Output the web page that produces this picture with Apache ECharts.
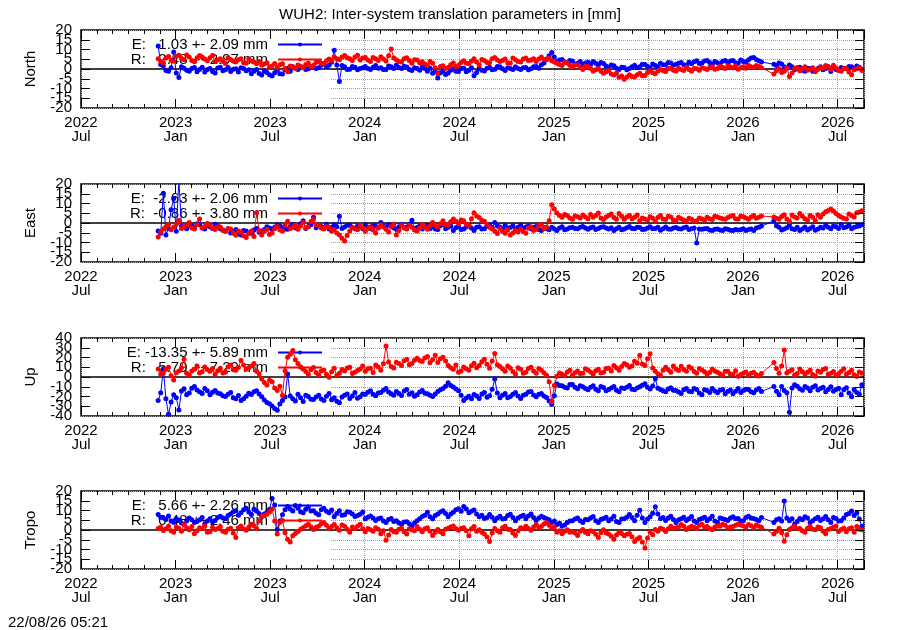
<!DOCTYPE html>
<html>
<head>
<meta charset="utf-8">
<title>WUH2 inter-system translation</title>
<script src="https://cdn.jsdelivr.net/npm/echarts@6/dist/echarts.min.js"></script>
<style>
html, body { margin: 0; padding: 0; background: #fff; }
#chart { width: 900px; height: 630px; }
</style>
</head>
<body>
<div id="chart"></div>
<script>
// time axis runs in days from axisStart; two interleaved 10-day sample grids, gap in Feb 2026
var axisStart = '2022-07-01';
var axisEnd = '2026-08-21';
var runsA = [['2022-11-27', 117], ['2026-02-28', 18]];
var runsB = [['2022-12-02', 117], ['2026-03-05', 17]];
var stepDays = 10;
var tickLabels = ['2022\nJul', '2023\nJan', '2023\nJul', '2024\nJan', '2024\nJul',
                  '2025\nJan', '2025\nJul', '2026\nJan', '2026\nJul'];
var panelNames = ['North', 'East', 'Up', 'Tropo'];
var legendE = ['E:   1.03 +- 2.09 mm', 'E:  -2.63 +- 2.06 mm', 'E: -13.35 +- 5.89 mm', 'E:   5.66 +- 2.26 mm'];
var legendR = ['R:   2.48 +- 2.97 mm', 'R:  -0.86 +- 3.80 mm', 'R:   5.79 +- 7.29 mm', 'R:   0.48 +- 2.46 mm'];
var yLimits = [20, 20, 40, 20];
var yTicks = [5, 5, 10, 5];
var stamp = '22/08/26 05:21';

// samples on grid A
var northE = [11.8, 1.6, -1.2, 8.7, -4.3, 0.4, -1.1, 0.8, -0.3, -1.5,
  0.2, -2.1, 0.9, -0.4, -1.3, 0.1, 0.7, -0.9, -2.4, -0.2,
  -3.1, -1.8, -3.6, -0.7, -2.6, 0.3, 1.1, -0.2, 0.8, 0.1,
  1.7, 0.6, 2.8, 1.9, 9.6, -6.4, 1.2, -0.1, 0.9, 0.2,
  1.3, -0.3, 1.8, 0.6, -0.2, 1.1, 2.0, 0.3, 1.0, -0.8,
  0.2, 1.2, -1.1, -2.2, -4.6, -0.9, -2.0, 0.1, -1.3, 0.4,
  -0.7, -3.4, 0.2, -1.0, 0.9, -0.1, 1.2, -0.8, 0.3, 1.1,
  -0.2, 0.8, 0.1, 1.3, 2.2, 5.1, 8.4, 3.8, 4.9, 3.2,
  4.1, 2.9, 2.2, 3.4, 3.9, 2.1, 2.8, 0.9, 1.7, -0.3,
  0.8, 0.2, 1.9, 1.1, 2.3, 0.7, 1.8, 2.9, 2.1, 3.1,
  2.4, 3.3, 1.9, 2.7, 4.2, 3.1, 4.4, 2.3, 3.2, 4.0,
  3.3, 4.3, 2.9, 3.8, 4.8, 5.9, 4.2,
  2.4, 3.1, 1.2, 2.0, -0.4, 0.9, -1.2, 0.3, -0.9, 1.1, 0.2, -1.3, -0.2, 0.8, 0.1, 1.2, 1.6, -0.2];
var northR = [5.2, 3.1, 6.4, 4.0, 7.1, 4.8, 6.2, 3.7, 6.9, 5.1,
  5.8, 3.9, 5.3, 2.8, 4.9, 3.6, 5.2, 2.9, 4.1, 2.7,
  1.9, 3.2, 1.6, 0.8, 2.7, -1.4, 1.1, 2.0, 0.7, 2.9,
  1.8, 3.8, 2.6, 5.1, 6.2, 4.7, 6.9, 5.3, 6.1, 4.6,
  5.9, 3.8, 5.2, 6.3, 4.1, 10.2, 4.7, 3.6, 5.8, 2.9,
  4.6, 3.7, 1.8, 2.9, -2.3, 1.7, 0.8, 3.1, 1.9, 4.2,
  2.8, 5.3, 2.1, 4.4, 3.2, 5.9, 3.8, 5.1, 2.9, 4.8,
  3.6, 5.7, 4.6, 3.9, 6.1, 4.8, 4.2, 2.9, 1.8, 3.1,
  0.9, 2.2, -0.3, 1.2, -1.1, 0.2, -2.2, -0.8, -3.1, -4.2,
  -5.3, -2.9, -4.1, -2.2, -3.3, -0.9, -2.4, -0.2, -1.3, 0.3,
  -1.1, -0.2, 0.9, -1.2, 0.1, 0.8, -0.3, 1.1, 0.2, 0.9,
  1.7, 0.6, -0.1, 1.2, 1.9, 0.8, 1.3,
  -2.6, 0.1, -1.2, -3.8, 0.3, -0.9, 1.1, -0.2, -1.4, 0.9, 1.8, -0.3, 0.6, -1.1, 0.2, -2.9, 0.1, -0.8];
var eastE = [-4.1, 15.2, -2.8, 12.6, 22.0, -2.2, -1.1, -2.4, -0.8, -3.1,
  -1.9, -0.7, -2.9, -4.2, -5.1, -3.3, -6.2, -4.1, -5.3, -2.8,
  -4.2, -1.9, -3.1, -0.9, -2.3, -3.2, -0.8, -2.1, 1.2, -1.8,
  2.9, -1.2, -2.3, -3.1, -0.9, 3.4, -2.1, -1.2, -3.0, -1.8,
  -0.9, -2.8, -1.7, 0.3, -2.2, -1.1, -3.2, -0.8, -2.1, 1.4,
  -2.3, -3.1, -1.2, -1.9, -3.3, -0.8, -2.2, -3.9, -1.8, -3.1,
  -1.2, -3.8, -1.9, -2.9, -0.9, 0.2, -2.1, -1.1, -2.3, -3.2,
  -1.2, -2.1, -3.0, -1.8, -3.8, -2.9, -2.2, -3.9, -1.9, -3.1,
  -2.2, -2.9, -1.8, -3.2, -2.1, -2.8, -1.9, -3.1, -3.9, -2.2,
  -3.1, -1.8, -2.9, -2.3, -3.2, -1.9, -2.8, -3.7, -2.1, -3.2,
  -2.3, -3.1, -2.1, -2.9, -10.3, -3.2, -2.8, -3.9, -3.1, -3.8,
  -3.2, -3.9, -3.6, -2.9, -3.3, -3.8, -2.2,
  1.1, -2.2, -3.1, -1.2, -3.3, -3.9, -2.1, -2.8, -3.7, -2.2, -1.1, -3.0, -1.9, -0.8, -2.1, -2.9, -1.8, -0.9];
var eastR = [-7.2, -3.1, -0.8, -2.2, 1.3, -1.9, 0.2, -3.1, 2.1, -1.8,
  -1.2, -3.3, -2.1, -4.2, -3.1, -6.3, -4.8, -7.4, -4.1, 5.2,
  -6.1, -3.2, -5.1, -1.8, -4.2, 0.9, -2.1, -3.2, 0.3, -1.9,
  2.1, -1.2, -3.1, -2.2, -3.3, -6.1, -9.2, -4.1, -2.9, -1.1,
  -4.2, -1.9, -5.1, -0.9, -3.2, -1.8, -6.2, -1.1, -3.1, -2.2,
  -4.1, -0.8, -3.2, 0.2, -2.1, 1.1, -1.2, 2.1, -0.2, 1.2,
  -1.1, 5.3, 2.8, 0.9, -2.2, -4.1, -2.9, -5.2, -6.1, -3.8,
  -3.1, -5.2, -1.9, -3.2, -0.8, -2.1, 9.4, 5.1, 2.9, 3.8,
  1.9, 3.2, 4.1, 2.2, 2.9, 5.1, 1.8, 3.9, 2.8, 4.9,
  1.9, 3.8, 2.9, 1.2, 2.1, 3.2, 0.9, 3.9, 1.8, 3.1,
  1.2, 2.2, 0.8, 1.9, 1.2, 2.1, 2.9, 1.8, 3.1, 2.2,
  2.8, 3.9, 2.1, 3.2, 1.9, 3.8, 2.9,
  3.1, 1.9, 4.2, 0.8, 3.1, 4.9, 2.2, 3.8, 1.2, 2.9, 5.8, 7.2, 4.9, 3.1, 2.1, 3.9, 5.2, 6.3];
var upE = [-24.2, 8.1, -38.3, -18.2, -33.8, -12.1, -16.3, -9.8, -15.2, -11.9,
  -18.1, -13.8, -17.2, -20.1, -15.8, -22.3, -24.1, -19.8, -17.9, -14.2,
  -20.3, -26.1, -29.8, -34.2, -24.1, 3.2, -22.3, -17.8, -25.1, -19.9,
  -23.2, -18.8, -24.1, -16.9, -21.2, -26.3, -18.8, -22.1, -15.9, -20.2,
  -17.8, -14.1, -19.2, -15.8, -11.9, -17.2, -14.8, -19.1, -12.9, -16.2,
  -18.1, -13.8, -17.2, -20.1, -14.9, -11.8, -5.9, -10.2, -14.1, -24.2,
  -19.8, -17.9, -22.1, -15.8, -19.2, -2.1, -21.2, -16.8, -19.9, -15.9,
  -22.1, -17.8, -14.9, -20.2, -16.8, -21.1, -28.2, -6.9, -9.1, -11.2,
  -7.8, -12.1, -9.9, -13.2, -8.9, -14.1, -10.8, -12.9, -9.8, -15.1,
  -11.9, -8.8, -13.1, -9.9, -6.8, -12.2, -1.9, -12.8, -15.1, -10.9,
  -13.8, -16.9, -11.8, -15.2, -12.9, -18.1, -13.8, -11.9, -16.2, -12.8,
  -14.9, -17.1, -11.8, -13.9, -12.8, -16.1, -11.9,
  -9.8, -18.2, -13.9, -36.1, -7.9, -12.1, -9.8, -14.2, -8.9, -11.8, -15.2, -9.9, -12.8, -18.1, -10.9, -20.2, -15.8, -7.9];
var upR = [8.2, 3.9, 10.1, -3.2, 6.1, 18.2, 2.1, 7.9, 4.2, 10.3,
  5.8, 2.9, 9.1, 4.8, 12.2, 6.9, 16.8, 7.9, 11.2, 5.8,
  -2.1, -8.2, -4.9, -13.8, -19.1, 20.2, 27.1, 13.8, 8.1, 2.9,
  9.8, 1.9, 7.2, -0.2, 8.9, 3.8, 6.1, 9.9, 4.8, 8.2,
  5.9, 9.1, 12.2, 6.8, 31.9, 10.8, 15.2, 11.9, 18.1, 13.8,
  19.2, 15.9, 21.1, 17.8, 14.9, 20.2, 11.8, 7.9, 4.8, 10.2,
  6.9, 14.1, 11.8, 18.2, 8.9, 24.1, 10.8, 5.9, 9.2, 2.8,
  7.9, 4.8, 10.1, 3.9, 6.8, 1.9, -25.2, 0.8, 2.9, 5.1,
  1.8, 6.2, 3.9, 7.1, 2.8, 7.9, 4.8, 9.1, 11.8, 6.9,
  13.8, 9.9, 16.1, 22.2, 11.9, 23.8, 5.9, 1.8, 9.9, 4.8,
  8.1, 10.9, 5.8, 9.1, 3.9, 7.2, 2.8, 8.1, 4.9, 1.8,
  5.9, 2.9, 0.8, 3.9, 1.8, 4.9, 0.9,
  14.8, 3.9, 27.8, 5.9, 1.8, 8.1, 2.9, 6.8, 0.9, 4.9, 8.8, 3.9, 1.8, 5.9, 2.8, 6.9, 0.8, 3.9];
var tropoE = [7.9, 6.1, 7.2, 3.9, 5.1, 2.8, 6.2, 3.9, 5.2, 3.1,
  5.8, 4.9, 7.1, 5.8, 8.2, 9.9, 8.8, 11.1, 7.9, 9.8,
  6.9, 9.1, 16.2, 0.2, 7.8, 12.1, 9.8, 11.2, 8.9, 11.8,
  9.9, 7.8, 11.1, 8.9, 6.8, 9.9, 7.8, 9.1, 6.9, 8.1,
  5.8, 7.2, 4.9, 6.1, 3.8, 5.9, 4.8, 2.9, 4.2, 1.9,
  4.8, 6.9, 9.1, 5.8, 8.2, 9.9, 6.8, 9.1, 10.9, 12.1,
  8.9, 10.2, 6.8, 5.9, 7.9, 4.8, 7.1, 5.9, 8.1, 4.8,
  6.9, 5.8, 8.2, 4.9, 7.1, 5.8, 3.9, 2.8, 1.9, 3.9,
  4.8, 6.1, 3.9, 5.2, 6.9, 3.8, 5.9, 4.8, 7.1, 3.9,
  5.8, 7.9, 4.8, 10.1, 3.9, 6.8, 11.9, 5.8, 4.9, 7.1,
  3.9, 5.8, 4.9, 6.9, 3.8, 5.9, 4.8, 7.1, 3.9, 5.8,
  4.9, 6.8, 5.9, 4.8, 7.1, 5.9, 4.8,
  3.9, 5.8, 14.9, 4.8, 2.9, 5.9, 6.8, 3.9, 5.8, 4.9, 6.9, 3.8, 5.9, 4.8, 7.9, 9.8, 8.9, 1.9];
var tropoR = [0.8, -0.2, 1.9, -1.1, 0.9, 2.8, 0.1, -1.9, 1.2, 2.1,
  -0.9, 0.2, 1.8, -1.2, 0.9, -3.9, 2.1, -0.1, 2.9, 0.8,
  6.9, 8.1, 10.8, -2.1, 4.9, -4.8, -2.9, -0.8, 1.1, 2.9,
  0.2, 1.9, 3.8, 0.9, 2.8, -0.1, 1.9, -1.1, 0.8, 2.9,
  -0.9, 0.1, 1.2, -1.9, -5.2, 0.2, -1.1, 0.9, -2.1, 0.1,
  1.8, -0.9, 1.1, -2.8, 0.2, -1.9, 0.9, 2.1, -0.1, 1.2,
  -2.9, 1.8, 0.1, -2.1, -5.9, 0.8, -1.1, 1.9, 0.2, -2.8,
  1.1, 1.9, -0.1, 2.8, 1.9, 3.8, 0.9, -1.1, -1.9, 0.1,
  -0.9, -2.8, 0.2, -1.9, -0.8, -3.9, 0.1, -2.1, -4.8, -1.1,
  -2.9, -1.8, -5.9, -3.8, -9.2, -1.1, 0.2, 0.9, -0.8, 1.9,
  1.1, 2.8, 0.2, 1.9, 0.8, 2.9, 1.8, 0.1, 2.1, 2.9,
  0.9, 1.8, 3.1, 2.1, 2.8, 1.2, 1.9,
  -2.1, 0.9, -5.8, 0.2, 1.9, 0.8, -1.1, 1.8, 0.1, 1.2, -1.9, 0.8, 2.1, 0.2, -0.9, 1.1, 1.8, 0.1];

// samples on grid B (5 days later)
var northEb = [2.3, -0.8, 0.6, -2.1, 1.2, -0.6, 0.3, -1.4, 0.9, -0.2,
  -1.3, 0.5, -0.9, 0.8, -0.1, -1.6, 0.2, -0.4, -1.1, -2.3,
  -1.2, -2.9, -1.9, -2.4, -0.4, -1.1, 0.4, 0.9, -0.3, 1.2,
  0.2, 1.9, 1.1, 3.4, 2.1, 1.8, -0.2, 1.3, -0.4, 0.7,
  0.2, 0.9, 0.4, -0.3, 1.6, 0.2, 0.8, 1.4, -0.2, 0.6,
  -0.7, 0.3, 0.4, -1.2, -2.1, -2.8, -0.6, -1.1, 0.3, -1.4,
  0.6, -1.8, -0.6, 0.4, -0.4, 1.3, 0.1, 0.6, -0.3, 0.2,
  0.7, -0.4, 1.1, 0.4, 3.1, 6.8, 6.1, 4.6, 3.6, 4.3,
  2.6, 3.8, 3.1, 2.4, 2.9, 3.3, 1.6, 2.1, 0.4, 0.9,
  -0.4, 1.2, 0.6, 2.4, 1.3, 2.6, 1.1, 2.2, 3.3, 1.9,
  3.0, 2.2, 3.4, 3.7, 2.8, 4.1, 3.3, 3.9, 2.6, 4.4,
  4.1, 3.2, 4.6, 3.4, 5.6, 4.9, 3.6,
  1.8, 2.6, 0.4, 1.1, 0.3, -0.6, 0.4, -1.1, 0.2, -0.4, 1.1, 0.6, -0.6, 0.4, 1.3, 0.2, 0.9];
var northRb = [3.9, 5.6, 4.3, 6.6, 5.4, 7.2, 4.4, 5.7, 6.1, 4.2,
  6.9, 4.6, 3.9, 5.8, 4.1, 4.8, 3.2, 5.1, 3.6, 3.9,
  2.6, 1.2, 2.8, 2.2, 0.2, 1.6, 0.3, 1.4, 2.3, 1.2,
  3.3, 2.9, 4.2, 4.4, 5.3, 6.2, 5.8, 4.3, 7.1, 5.6,
  4.6, 5.9, 4.3, 5.1, 6.8, 5.6, 3.9, 5.2, 4.3, 4.8,
  3.2, 2.6, 3.9, 0.6, 1.3, 0.2, 2.2, 1.3, 3.3, 2.9,
  4.1, 3.6, 4.9, 3.3, 5.2, 4.6, 4.4, 3.2, 5.6, 3.8,
  5.1, 4.3, 5.2, 5.1, 4.9, 5.6, 3.6, 2.3, 3.4, 1.9,
  2.1, 0.8, 1.4, 0.3, -0.4, -1.2, -1.4, -2.6, -2.2, -3.6,
  -4.1, -3.8, -2.9, -3.4, -1.8, -1.9, -1.1, -0.8, 0.2, -0.6,
  0.4, -0.8, -0.2, 0.3, -0.6, 0.2, 0.9, -0.1, 1.4, 0.3,
  1.1, 1.6, 0.7, 0.4, 1.2, 1.8, 0.6,
  -0.9, -1.8, 0.4, -2.1, 0.8, 0.2, -0.6, 0.7, -0.3, 0.4, 1.2, 1.9, -0.8, 0.3, -1.6, -0.4, 0.7];
var eastEb = [-5.3, -6.1, 6.8, -4.2, -1.6, -2.9, -1.2, -0.4, -2.6, -1.4,
  -2.8, -1.6, -3.6, -2.9, -4.4, -5.6, -3.9, -5.2, -3.6, -4.8,
  -3.3, -2.6, -2.2, -1.6, -3.1, -1.9, -2.6, -0.4, -2.8, -0.9,
  -2.4, -1.8, -0.6, -2.2, -1.9, -2.8, -1.1, -2.4, -1.6, -2.9,
  -2.2, -1.3, -2.6, -1.4, -0.8, -2.6, -1.9, -2.4, -0.6, -2.8,
  -1.6, -2.2, -2.8, -3.1, -1.4, -2.9, -1.6, -2.4, -3.3, -2.1,
  -2.6, -2.2, -3.1, -1.4, -2.3, -1.6, -2.9, -2.6, -1.4, -2.2,
  -2.8, -1.6, -2.2, -3.3, -2.4, -3.4, -3.1, -2.6, -3.4, -2.4,
  -2.8, -2.2, -2.6, -2.4, -3.3, -2.2, -2.6, -2.4, -2.9, -3.4,
  -2.4, -2.8, -2.2, -3.3, -2.6, -2.9, -2.2, -2.9, -3.1, -2.6,
  -2.9, -2.4, -3.3, -2.6, -3.1, -2.9, -3.6, -3.2, -3.6, -2.9,
  -3.7, -3.3, -3.4, -3.9, -3.1, -2.6, -1.6,
  -1.4, -3.6, -2.4, -2.9, -2.2, -3.1, -3.6, -1.9, -3.1, -2.6, -2.2, -1.6, -2.8, -2.4, -1.2, -2.2, -1.6];
var eastRb = [-4.6, -1.9, -3.4, -0.6, -2.8, -1.2, -2.6, -0.9, -2.4, -0.2,
  -2.6, -1.9, -3.8, -2.9, -5.2, -4.1, -6.6, -5.3, -6.9, -3.9,
  -4.4, -5.9, -2.9, -3.6, -1.2, -2.8, -1.1, -1.6, -2.6, 0.8,
  -0.9, -2.6, -1.8, -4.2, -5.1, -7.8, -6.4, -2.2, -3.4, -2.6,
  -2.8, -3.6, -2.4, -2.1, -4.6, -0.6, -3.9, -2.6, -1.2, -3.6,
  -2.6, -2.3, -1.6, -1.1, -0.4, -0.9, 0.6, 0.9, 1.6, -0.6,
  2.2, 3.6, 1.4, -0.8, -3.1, -5.4, -4.2, -3.6, -5.1, -4.6,
  -4.4, -2.6, -3.8, -1.4, -2.9, 1.2, 7.2, 3.8, 4.4, 2.6,
  3.6, 2.6, 3.1, 4.4, 3.8, 2.6, 3.1, 4.6, 1.9, 3.4,
  3.1, 2.2, 4.1, 2.6, 1.6, 2.4, 2.8, 2.1, 3.4, 1.6,
  2.9, 1.6, 2.4, 0.9, 2.6, 1.4, 2.2, 3.4, 2.6, 1.9,
  3.4, 2.2, 3.6, 2.6, 3.1, 2.4, 3.6,
  2.4, 3.3, 2.1, 4.1, 2.6, 3.4, 1.6, 2.9, 4.2, 4.6, 6.4, 6.1, 3.9, 2.4, 4.6, 3.1, 5.6];
var upEb = [-16.2, -22.4, -25.6, -21.2, -14.4, -18.2, -11.6, -13.4, -16.8, -14.2,
  -15.6, -16.4, -19.3, -17.6, -21.4, -18.9, -22.2, -16.6, -15.1, -17.4,
  -23.6, -27.4, -32.2, -27.8, -20.6, -19.4, -24.6, -21.4, -18.6, -22.8,
  -20.4, -22.6, -19.8, -23.4, -24.8, -20.6, -17.4, -19.6, -21.8, -17.4,
  -15.6, -17.8, -16.4, -13.6, -15.4, -18.6, -16.9, -14.4, -17.6, -19.8,
  -15.4, -16.6, -18.8, -17.4, -13.2, -9.4, -8.6, -12.4, -18.6, -21.6,
  -22.4, -19.6, -17.4, -20.8, -12.6, -16.4, -18.6, -21.4, -17.6, -19.4,
  -18.6, -15.4, -18.4, -17.6, -19.4, -24.6, -19.2, -8.6, -10.4, -7.8,
  -10.6, -8.9, -11.8, -10.4, -12.6, -9.8, -14.2, -11.4, -13.6, -11.2,
  -10.4, -12.6, -11.4, -8.4, -10.6, -9.2, -11.6, -14.2, -12.4, -13.6,
  -15.4, -13.2, -14.6, -11.8, -16.4, -13.2, -15.8, -14.4, -13.6, -17.2,
  -13.4, -14.6, -15.8, -12.6, -15.2, -13.4, -14.8,
  -14.6, -9.8, -16.2, -11.4, -9.6, -13.6, -11.2, -10.4, -13.4, -10.6, -12.8, -14.6, -11.6, -13.2, -16.4, -12.8, -17.6];
var upRb = [2.8, 7.6, 1.2, 4.4, 9.6, 3.8, 6.2, 11.4, 5.4, 7.8,
  8.6, 6.4, 4.2, 10.6, 7.4, 9.8, 12.4, 9.6, 13.8, 3.4,
  -5.6, -3.4, -11.2, -9.6, 6.4, 23.4, 17.6, 10.4, 5.6, 7.4,
  4.6, 6.2, 2.8, 5.4, 1.6, 7.8, 9.2, 3.6, 6.6, 11.2,
  8.4, 4.6, 10.2, 13.6, 15.4, 9.2, 13.8, 16.6, 12.6, 17.2,
  16.8, 19.4, 14.6, 22.2, 18.6, 16.4, 9.6, 12.4, 6.2, 8.4,
  11.6, 9.4, 15.6, 13.2, 16.4, 12.6, 8.4, 11.2, 5.6, 9.4,
  3.8, 8.6, 6.2, 8.8, 4.4, -4.8, -8.6, 4.2, 1.6, 6.8,
  4.4, 3.6, 8.4, 5.2, 6.4, 4.2, 8.6, 6.2, 9.4, 10.8,
  12.6, 11.4, 14.2, 13.4, 18.6, 9.2, 3.4, 6.8, 7.4, 11.2,
  6.6, 7.8, 10.4, 5.6, 8.8, 5.4, 4.6, 6.2, 3.4, 5.8,
  3.2, 6.4, 2.6, 5.2, 3.8, 2.4, 3.6,
  8.6, 11.4, 4.2, 7.4, 3.6, 5.4, 4.8, 2.6, 6.2, 7.6, 2.8, 5.6, 3.4, 8.4, 4.6, 2.4, 5.2];
var tropoEb = [6.6, 5.4, 4.6, 5.8, 3.6, 4.8, 5.2, 4.4, 6.4, 4.6,
  4.2, 6.4, 6.2, 7.4, 9.4, 7.6, 10.4, 9.2, 10.6, 8.4,
  8.2, 10.6, 12.8, 4.6, 10.4, 10.8, 12.6, 9.4, 10.6, 9.8,
  8.6, 10.4, 9.6, 10.2, 8.4, 7.6, 9.4, 8.2, 7.4, 9.2,
  6.6, 6.2, 5.8, 4.6, 5.4, 4.4, 3.6, 4.1, 3.2, 3.6,
  5.8, 7.6, 6.8, 7.4, 9.2, 8.4, 8.2, 10.4, 9.6, 10.8,
  9.6, 8.2, 7.6, 6.4, 6.6, 6.2, 5.6, 7.4, 6.4, 6.2,
  7.6, 7.2, 6.4, 6.2, 6.4, 5.2, 4.6, 3.4, 2.6, 4.6,
  5.6, 4.8, 5.4, 6.2, 4.8, 5.4, 6.6, 5.6, 4.4, 5.6,
  6.6, 6.4, 7.6, 6.2, 5.6, 8.6, 8.2, 6.4, 6.2, 5.4,
  5.2, 6.6, 5.8, 4.6, 5.4, 6.6, 5.8, 4.6, 6.2, 5.4,
  6.2, 5.8, 4.6, 6.4, 6.2, 5.4, 6.4,
  5.2, 4.6, 6.2, 5.8, 4.4, 5.2, 6.2, 4.8, 6.6, 5.8, 5.2, 6.4, 4.6, 6.2, 8.4, 7.4, 5.6];
var tropoRb = [1.4, 0.6, -0.4, 1.6, -0.6, 1.2, 1.8, -0.4, 0.6, -1.2,
  1.4, 0.8, -0.6, 0.4, -1.6, 1.2, 0.6, 1.4, 2.2, 4.6,
  7.4, 9.2, 4.6, 3.8, -1.4, -6.2, -1.8, 0.4, 2.2, 1.6,
  1.4, 3.2, 2.4, 1.8, 1.2, 2.6, 0.4, 1.6, 1.9, 0.6,
  0.8, -0.6, 0.4, -0.4, -2.6, -0.8, 0.4, -0.9, 0.6, -0.4,
  0.4, 0.6, -0.6, -1.2, -0.9, 0.4, 1.6, 0.6, 0.8, -0.4,
  0.6, -0.6, -1.1, -3.6, -1.6, -0.4, 1.2, 0.4, -1.6, -0.4,
  0.6, 0.8, 1.6, 1.2, 3.1, 2.4, 1.6, -0.4, -0.6, -1.1,
  -1.6, -0.6, -1.2, -0.4, -2.2, -1.4, -1.6, -3.2, -2.6, -1.8,
  -2.2, -3.4, -4.6, -6.2, -4.1, -2.4, -0.6, 0.4, 0.6, 0.9,
  1.6, 1.9, 1.2, 1.4, 2.4, 1.6, 0.8, 1.6, 1.9, 2.4,
  1.6, 2.4, 2.6, 1.6, 2.2, 2.6, 1.4,
  -0.6, -1.4, -2.4, 1.2, 0.6, -0.4, 0.9, 0.4, 1.6, -0.6, 0.2, 1.4, -0.8, 0.9, 0.6, -1.2, 0.4];

var seriesE = [[northE, northEb], [eastE, eastEb], [upE, upEb], [tropoE, tropoEb]];
var seriesR = [[northR, northRb], [eastR, eastRb], [upR, upRb], [tropoR, tropoRb]];

var DAY = 86400000;
function dayOf(s) {
    return (Date.parse(s) - Date.parse(axisStart)) / DAY;
}
function sampleDays(runs) {
    var out = [];
    runs.forEach(function (r) {
        var d0 = dayOf(r[0]);
        for (var k = 0; k < r[1]; k++) out.push(d0 + k * stepDays);
    });
    return out;
}
var xDaysA = sampleDays(runsA);
var xDaysB = sampleDays(runsB);
var xMax = dayOf(axisEnd);

function merged(pair) {
    var pts = [];
    pair[0].forEach(function (v, k) { if (xDaysA[k] !== undefined) pts.push([xDaysA[k], v]); });
    pair[1].forEach(function (v, k) { if (xDaysB[k] !== undefined) pts.push([xDaysB[k], v]); });
    pts.sort(function (p, q) { return p[0] - q[0]; });
    return pts;
}

var font = 'Liberation Sans, Arial, sans-serif';
var tops = [30, 184, 338, 491];
var plotLeft = 81, plotWidth = 783, plotHeight = 78;
var halfYear = 182.625, month = 30.4375;
var majorTick = {show: true, inside: true, length: 9, lineStyle: {color: '#000', width: 1}};
var minorTick = {show: true, inside: true, length: 4, lineStyle: {color: '#000', width: 1}};
var gridLine = {show: true, lineStyle: {color: '#a0a0a0', type: 'dotted', width: 1}};
var labelText = {fontSize: 15, color: '#000', fontFamily: font, hideOverlap: false};

var grids = [], xAxes = [], yAxes = [], series = [], legends = [], graphics = [];

panelNames.forEach(function (name, i) {
    var top = tops[i];
    grids.push({
        left: plotLeft, top: top, width: plotWidth, height: plotHeight,
        show: true, borderColor: '#000', borderWidth: 1.5,
        backgroundColor: 'transparent', containLabel: false, outerBoundsMode: 'none'
    });

    function xa(extra) {
        return Object.assign({
            type: 'value', gridIndex: i, min: 0, max: xMax, interval: halfYear,
            axisLine: {show: false, onZero: false}, axisTick: {show: false},
            axisLabel: {show: false}, splitLine: {show: false}, z: 5
        }, extra);
    }
    var xb = xAxes.length;
    xAxes.push(xa({position: 'bottom', z: 0, splitLine: gridLine}));
    xAxes.push(xa({
        position: 'bottom', axisTick: majorTick,
        axisLabel: Object.assign({
            show: true, margin: 8, lineHeight: 14, showMinLabel: true,
            formatter: function (v, idx) { return tickLabels[idx] || ''; }
        }, labelText)
    }));
    xAxes.push(xa({position: 'bottom', interval: month, axisTick: minorTick}));
    xAxes.push(xa({position: 'top', axisTick: majorTick}));
    xAxes.push(xa({position: 'top', interval: month, axisTick: minorTick}));

    function ya(extra) {
        return Object.assign({
            type: 'value', gridIndex: i, min: -yLimits[i], max: yLimits[i], interval: yTicks[i],
            axisLine: {show: false, onZero: false}, axisTick: {show: false},
            axisLabel: {show: false}, splitLine: {show: false}, z: 5
        }, extra);
    }
    var yb = yAxes.length;
    yAxes.push(ya({position: 'left', z: 0, splitLine: gridLine}));
    // inner labels and ticks
    yAxes.push(ya({
        position: 'left', axisTick: majorTick,
        name: name, nameLocation: 'middle', nameGap: 43,
        nameTextStyle: {fontSize: 15, color: '#000', fontFamily: font},
        axisLabel: Object.assign({show: true, margin: 9, showMinLabel: false, showMaxLabel: false}, labelText)
    }));
    // end labels at the min and max
    yAxes.push(ya({
        position: 'left', interval: 2 * yLimits[i],
        axisLabel: Object.assign({show: true, margin: 9, showMinLabel: true, showMaxLabel: true}, labelText)
    }));
    yAxes.push(ya({position: 'right', axisTick: majorTick}));

    // opaque key box hides the grid behind the legend area
    graphics.push({
        type: 'rect', silent: true, z: 1,
        shape: {x: plotLeft + 1, y: top + 1, width: 249, height: plotHeight - 2},
        style: {fill: '#fff'}
    });

    var common = {
        type: 'line', xAxisIndex: xb + 1, yAxisIndex: yb + 1,
        symbol: 'circle', symbolSize: 5, showSymbol: true, z: 3,
        animation: false, silent: true, emphasis: {disabled: true}
    };
    series.push(Object.assign({}, common, {
        name: legendE[i], data: merged(seriesE[i]),
        lineStyle: {color: '#0000ff', width: 1}, itemStyle: {color: '#0000ff'},
        markLine: {
            silent: true, z: 2, animation: false, symbol: ['none', 'none'],
            label: {show: false}, lineStyle: {color: '#000', width: 1.5, type: 'solid'},
            emphasis: {disabled: true},
            data: [{yAxis: 0}]
        }
    }));
    series.push(Object.assign({}, common, {
        name: legendR[i], data: merged(seriesR[i]),
        lineStyle: {color: '#ff0000', width: 1}, itemStyle: {color: '#ff0000'}
    }));

    legends.push({
        orient: 'vertical', align: 'right', right: 577, top: top + 7,
        padding: 0, itemWidth: 44, itemHeight: 5, itemGap: 0, z: 2,
        selectedMode: false, data: [legendE[i], legendR[i]],
        textStyle: {fontSize: 15, lineHeight: 14, color: '#000', fontFamily: font, padding: [0, 5, 0, 0]}
    });
});

var chart = echarts.init(document.getElementById('chart'));
chart.setOption({
    backgroundColor: '#fff',
    animation: false,
    textStyle: {fontFamily: font},
    title: [
        {text: 'WUH2: Inter-system translation parameters in [mm]', left: 'center', top: 7, padding: 0,
         textStyle: {fontSize: 15, fontWeight: 'normal', color: '#000', fontFamily: font}},
        {text: stamp, left: 8, top: 615, padding: 0,
         textStyle: {fontSize: 15, fontWeight: 'normal', color: '#000', fontFamily: font}}
    ],
    grid: grids,
    xAxis: xAxes,
    yAxis: yAxes,
    legend: legends,
    graphic: {elements: graphics},
    series: series
});
</script>
</body>
</html>
